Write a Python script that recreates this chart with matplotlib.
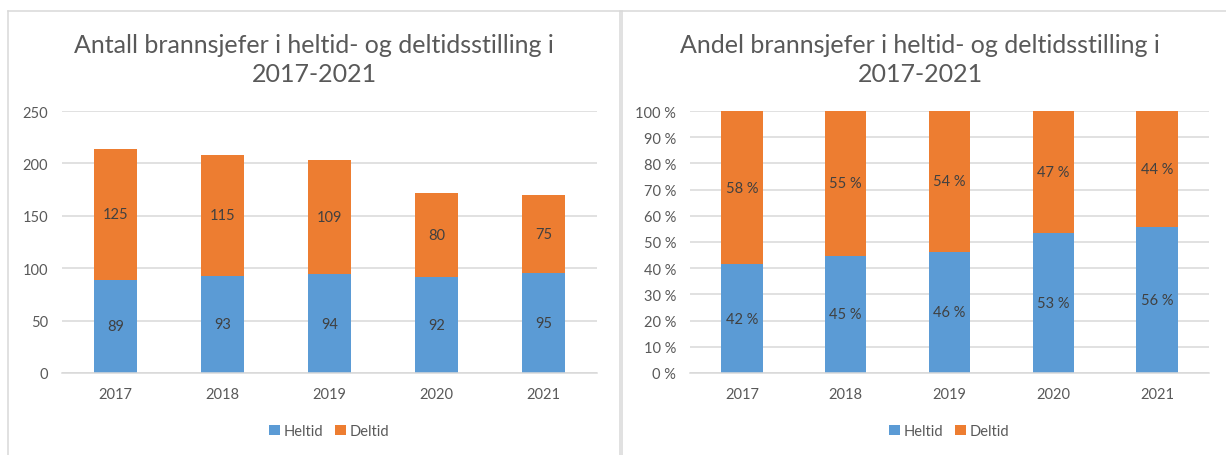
import numpy as np
import matplotlib.pyplot as plt
from matplotlib.lines import Line2D
from matplotlib.ticker import FuncFormatter

plt.rcParams['font.family'] = ['Lato', 'DejaVu Sans']

# DATA
aar = ['2017', '2018', '2019', '2020', '2021']
heltid = np.array([89, 93, 94, 92, 95])
deltid = np.array([125, 115, 109, 80, 75])

total = heltid + deltid
heltid_andel = heltid / total * 100
deltid_andel = deltid / total * 100

blaa = '#5B9BD5'
oransje = '#ED7D31'
tekst = '#595959'
grid = '#D9D9D9'
fs = 10.5

fig = plt.figure(figsize=(12.26, 4.56), dpi=100)

ax1 = fig.add_axes([62/1226, 82/456, 535/1226, 262/456])
ax2 = fig.add_axes([690/1226, 82/456, 519/1226, 262/456])

x = np.arange(len(aar))


def stil(ax):
    for s in ['top', 'right', 'left']:
        ax.spines[s].set_visible(False)
    ax.spines['bottom'].set_color(grid)
    ax.spines['bottom'].set_linewidth(1.1)
    ax.yaxis.grid(True, color=grid, linewidth=1.1)
    ax.set_axisbelow(True)
    ax.tick_params(length=0, colors=tekst, labelsize=fs)
    ax.tick_params(axis='x', pad=10)
    ax.tick_params(axis='y', pad=10)
    ax.set_xlim(-0.5, len(aar) - 0.5)
    ax.set_xticks(x)
    ax.set_xticklabels(aar)


def legende(ax):
    ax.legend(loc='center', bbox_to_anchor=(0.5, -0.221), ncol=2, frameon=False,
              fontsize=fs, labelcolor=tekst, handlelength=0.7, handleheight=0.7,
              handletextpad=0.3, columnspacing=0.8)


# Antall
b1 = ax1.bar(x, heltid, 0.4, color=blaa, label='Heltid')
b2 = ax1.bar(x, deltid, 0.4, bottom=heltid, color=oransje, label='Deltid')
ax1.bar_label(b1, labels=[str(v) for v in heltid], label_type='center',
              color='#404040', fontsize=fs)
ax1.bar_label(b2, labels=[str(v) for v in deltid], label_type='center',
              color='#404040', fontsize=fs)
ax1.set_ylim(0, 250)
ax1.set_yticks(np.arange(0, 251, 50))
stil(ax1)
legende(ax1)

# Andel
p1 = ax2.bar(x, heltid_andel, 0.4, color=blaa, label='Heltid')
p2 = ax2.bar(x, deltid_andel, 0.4, bottom=heltid_andel, color=oransje, label='Deltid')
ax2.bar_label(p1, labels=[f'{v:.0f} %' for v in heltid_andel], label_type='center',
              color='#404040', fontsize=fs)
ax2.bar_label(p2, labels=[f'{v:.0f} %' for v in deltid_andel], label_type='center',
              color='#404040', fontsize=fs)
ax2.set_ylim(0, 100)
ax2.set_yticks(np.arange(0, 101, 10))
ax2.yaxis.set_major_formatter(FuncFormatter(lambda v, p: f'{v:.0f} %'))
stil(ax2)
legende(ax2)

# Titler
fig.text(314/1226, 1 - 60/456, 'Antall brannsjefer i heltid- og deltidsstilling i\n2017-2021',
         ha='center', va='center', fontsize=18, color=tekst, linespacing=1.3)
fig.text(920/1226, 1 - 60/456, 'Andel brannsjefer i heltid- og deltidsstilling i\n2017-2021',
         ha='center', va='center', fontsize=18, color=tekst, linespacing=1.3)

# Rammer
ytop = 1 - 11.5/456
fig.add_artist(Line2D([8/1226, 1], [ytop, ytop], color=grid, linewidth=1.1))
fig.add_artist(Line2D([8/1226, 8/1226], [0, ytop], color=grid, linewidth=1.1))
fig.add_artist(Line2D([619.5/1226, 619.5/1226], [0, ytop], color=grid, linewidth=1.1))
fig.add_artist(Line2D([621.5/1226, 621.5/1226], [0, ytop], color=grid, linewidth=1.1))

fig.savefig('out.png', dpi=100)
